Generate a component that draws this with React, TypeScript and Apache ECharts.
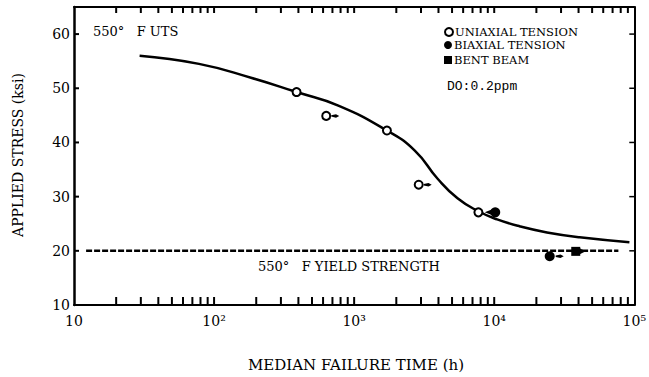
import React, { useEffect, useRef } from "react";
import * as echarts from "echarts";

// Axis ticks and labels
const xTickValues = [10, 100, 1000, 10000, 100000];
const xTickLabels = ["10", "10²", "10³", "10⁴", "10⁵"];
const xMinorMultipliers = [1, 2, 3, 4, 5, 6, 7, 8, 9];
const yTickValues = [10, 20, 30, 40, 50, 60];
const yRightTickValues = [20, 30, 40, 50, 60];
const X_MIN = 10;
const X_MAX = 100000;
const Y_MIN = 10;
const Y_MAX = 65;

// 550°F UTS curve (failure time h, stress ksi)
const utsCurve: [number, number][] = [
  [29.4, 56.0], [78, 54.5], [186, 51.9], [388, 49.3], [771, 46.8],
  [1714, 42.2], [2710, 38.5], [3945, 33.3], [5470, 29.7], [7710, 27.3],
  [10500, 25.8], [15300, 24.5], [23800, 23.4], [40700, 22.5], [92300, 21.6],
];

// Test results
const uniaxial: [number, number][] = [
  [388, 49.3], [632, 44.9], [1714, 42.2], [2890, 32.2], [7710, 27.1],
];
const uniaxialRunout: [number, number][] = [[632, 44.9], [2890, 32.2]];
const biaxial: [number, number][] = [[10170, 27.1], [24900, 19.0]];
const biaxialRunoutLeft: [number, number][] = [[10170, 27.1]];
const biaxialRunout: [number, number][] = [[24900, 19.0]];
const bentBeam: [number, number][] = [[38200, 19.9]];
const bentBeamRunout: [number, number][] = [[38200, 19.9]];

// 550°F yield strength
const yieldStrength = 20;
const yieldSpan = [12.2, 77000];

const SERIF = "'DejaVu Serif', 'Liberation Serif', serif";
const UTS_TEXT = "550°   F UTS";
const YIELD_TEXT = "550°   F YIELD STRENGTH";

const wedgeRight = "path://M0,1.2 L6,0 L10,2 L6,4 L0,2.8 Z";
const triRight = "path://M0,0 L10,5 L0,10 Z";

const textGraphics = [
  {
    id: "t-uts",
    type: "text",
    left: 93,
    top: 25,
    style: { text: UTS_TEXT, fontFamily: SERIF, fontSize: 13, fill: "#000" },
  },
  {
    id: "t-yield",
    type: "text",
    left: 258,
    top: 260,
    style: { text: YIELD_TEXT, fontFamily: SERIF, fontSize: 13, fill: "#000" },
  },
  {
    id: "t-do",
    type: "text",
    left: 447,
    top: 80,
    style: {
      text: "DO:0.2ppm",
      fontFamily: "'Liberation Mono', monospace",
      fontSize: 13,
      fill: "#000",
    },
  },
  {
    id: "t-ytitle",
    type: "text",
    x: 18,
    y: 155,
    rotation: Math.PI / 2,
    style: {
      text: "APPLIED STRESS (ksi)",
      fontFamily: SERIF,
      fontSize: 14,
      fill: "#000",
      align: "center",
      verticalAlign: "middle",
    },
  },
  {
    id: "t-xtitle",
    type: "text",
    x: 356,
    y: 365,
    style: {
      text: "MEDIAN FAILURE TIME (h)",
      fontFamily: SERIF,
      fontSize: 15,
      fill: "#000",
      align: "center",
      verticalAlign: "middle",
    },
  },
];

export default function App() {
  const ref = useRef<HTMLDivElement>(null);

  useEffect(() => {
    if (!ref.current) return;
    const chart = echarts.init(ref.current, undefined, { renderer: "svg" });

    const xTicks: number[] = [];
    xTickValues.slice(0, -1).forEach((d) =>
      xMinorMultipliers.forEach((m) => xTicks.push(d * m))
    );
    const xInnerTicks = xTicks.filter((v) => v > X_MIN && v < X_MAX);

    const xLabel = (v: number) => xTickLabels[Math.round(Math.log10(v)) - 1] ?? "";

    const baseX = {
      type: "log" as const,
      logBase: 10,
      min: X_MIN,
      max: X_MAX,
      splitLine: { show: false },
      minorTick: { show: false },
      axisTick: { show: false },
      axisLine: { show: true, lineStyle: { color: "#000", width: 2 } },
    };

    const markerStyle = { opacity: 1 };

    chart.setOption({
      animation: false,
      backgroundColor: "#fff",
      grid: { left: 74, right: 11, top: 7, bottom: 72 },
      xAxis: [
        {
          ...baseX,
          position: "bottom",
          axisLabel: {
            customValues: xTickValues,
            formatter: xLabel,
            fontFamily: SERIF,
            fontSize: 14,
            color: "#000",
            margin: 9,
          },
        },
        { ...baseX, position: "top", axisLabel: { show: false } },
      ],
      yAxis: [
        {
          type: "value",
          min: Y_MIN,
          max: Y_MAX,
          interval: 10,
          position: "left",
          splitLine: { show: false },
          axisTick: { show: false },
          axisLine: { show: true, lineStyle: { color: "#000", width: 2.5 } },
          axisLabel: {
            customValues: yTickValues,
            fontFamily: SERIF,
            fontSize: 14,
            color: "#000",
            margin: 4,
          },
        },
        {
          type: "value",
          min: Y_MIN,
          max: Y_MAX,
          interval: 10,
          position: "right",
          splitLine: { show: false },
          axisTick: { show: false },
          axisLine: { show: true, lineStyle: { color: "#000", width: 2 } },
          axisLabel: { show: false },
        },
      ],
      legend: [
        { name: "UNIAXIAL TENSION", top: 26 },
        { name: "BIAXIAL TENSION", top: 39 },
        { name: "BENT BEAM", top: 54 },
      ].map((l) => ({
        data: [l.name],
        left: 444,
        top: l.top,
        padding: 0,
        itemWidth: 8,
        itemHeight: 8,
        itemGap: 0,
        selectedMode: false,
        textStyle: {
          fontFamily: SERIF,
          fontSize: 11.5,
          color: "#000",
          lineHeight: 11,
          padding: [0, 0, 0, -3],
        },
      })),
      graphic: textGraphics,
      series: [
        {
          name: "UTS",
          type: "line",
          data: utsCurve,
          smooth: 0.5,
          showSymbol: false,
          silent: true,
          lineStyle: { color: "#000", width: 2.5 },
          z: 2,
        },
        {
          name: "YIELD",
          type: "line",
          data: yieldSpan.map((x) => [x, yieldStrength]),
          showSymbol: false,
          silent: true,
          lineStyle: { color: "#000", width: 2.5, type: [6, 2] },
          z: 2,
        },
        {
          name: "UNIAXIAL TENSION",
          type: "scatter",
          data: uniaxial,
          symbol: "circle",
          symbolSize: 8,
          itemStyle: { ...markerStyle, color: "#fff", borderColor: "#000", borderWidth: 2 },
          z: 5,
        },
        {
          name: "BIAXIAL TENSION",
          type: "scatter",
          data: biaxial,
          symbol: "circle",
          symbolSize: 10,
          itemStyle: { ...markerStyle, color: "#000" },
          z: 5,
        },
        {
          name: "BENT BEAM",
          type: "scatter",
          data: bentBeam,
          symbol: "rect",
          symbolSize: 9,
          itemStyle: { ...markerStyle, color: "#000" },
          z: 5,
        },
        {
          name: "runout-u",
          type: "scatter",
          data: uniaxialRunout,
          symbol: wedgeRight,
          symbolSize: [8, 3.5],
          symbolOffset: [9, 0],
          itemStyle: { ...markerStyle, color: "#000" },
          z: 4,
        },
        {
          name: "runout-b",
          type: "scatter",
          data: biaxialRunout,
          symbol: wedgeRight,
          symbolSize: [8, 3.5],
          symbolOffset: [10, 0],
          itemStyle: { ...markerStyle, color: "#000" },
          z: 4,
        },
        {
          name: "runout-b-left",
          type: "scatter",
          data: biaxialRunoutLeft,
          symbol: triRight,
          symbolRotate: 180,
          symbolSize: [9, 7],
          symbolOffset: [-6, 0],
          itemStyle: { ...markerStyle, color: "#000" },
          z: 4,
        },
        {
          name: "runout-bb",
          type: "scatter",
          data: bentBeamRunout,
          symbol: triRight,
          symbolSize: [6, 6],
          symbolOffset: [7, 0],
          itemStyle: { ...markerStyle, color: "#000" },
          z: 4,
        },
      ],
    });

    // Frame tick marks: positions come from the grid's own scales,
    // then short rects are drawn inward from each edge, above everything else.
    const toPx = (x: number, y: number) =>
      chart.convertToPixel({ gridIndex: 0 }, [x, y]) as number[];
    const corner0 = toPx(X_MIN, Y_MIN);
    const corner1 = toPx(X_MAX, Y_MAX);
    const left = corner0[0];
    const bottom = corner0[1];
    const right = corner1[0];
    const top = corner1[1];

    const tickRects: any[] = [];
    const addRect = (id: string, x: number, y: number, w: number, h: number) =>
      tickRects.push({
        id,
        type: "rect",
        z: 100,
        silent: true,
        shape: { x, y, width: w, height: h },
        style: { fill: "#000" },
      });

    xInnerTicks.forEach((v, i) => {
      const px = toPx(v, Y_MIN)[0];
      addRect(`tb${i}`, px - 1, bottom - 8, 2, 8);
      addRect(`tt${i}`, px - 1, top, 2, 6);
    });
    yTickValues
      .filter((v) => v > Y_MIN)
      .forEach((v, i) => {
        const py = toPx(X_MIN, v)[1];
        addRect(`tl${i}`, left, py - 1, 5, 2);
      });
    yRightTickValues.forEach((v, i) => {
      const py = toPx(X_MAX, v)[1];
      addRect(`tr${i}`, right - 5, py - 0.75, 5, 1.5);
    });

    chart.setOption({ graphic: [...textGraphics, ...tickRects] });

    return () => chart.dispose();
  }, []);

  return (
    <div
      ref={ref}
      style={{ position: "absolute", left: 0, top: 0, width: 649, height: 377 }}
    />
  );
}
